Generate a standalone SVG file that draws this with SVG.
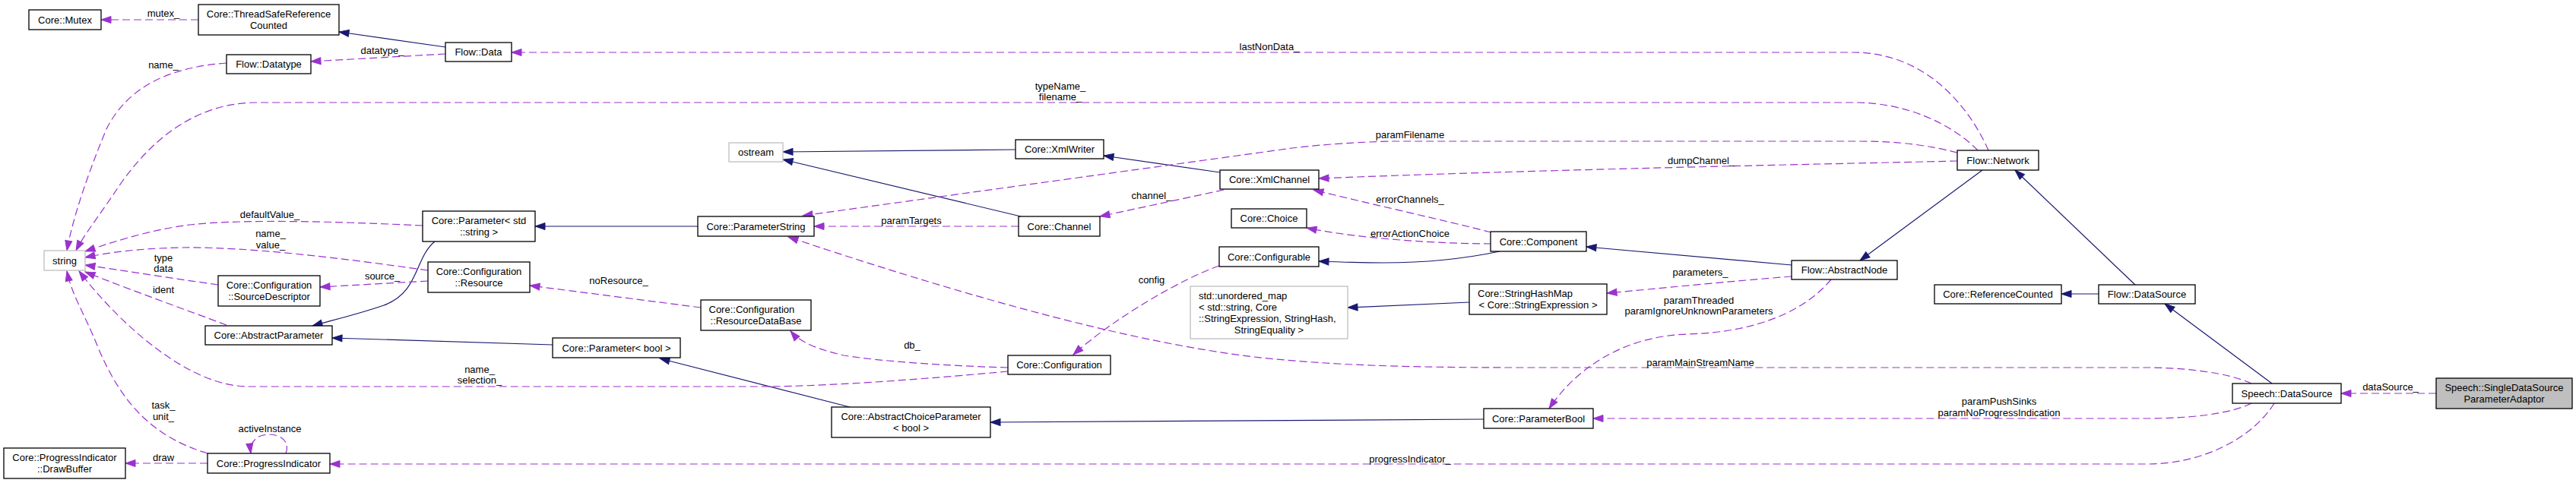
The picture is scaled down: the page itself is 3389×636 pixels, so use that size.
<svg xmlns="http://www.w3.org/2000/svg" width="3389" height="636" viewBox="0 0 3389 636">
<style>
rect{fill:#fff;stroke:#000;stroke-width:1.3}
.g rect{stroke:#bfbfbf}
.m rect{fill:#bfbfbf}
text{font-family:"Liberation Sans",Arial,sans-serif;font-size:13px;fill:#000}
.c{text-anchor:middle}
.inh{fill:none;stroke:#191970;stroke-width:1.2;marker-end:url(#ab)}
.use{fill:none;stroke:#9a32cd;stroke-width:1.2;stroke-dasharray:10,5;marker-end:url(#ap)}
</style>
<defs>
<marker id="ab" markerWidth="14" markerHeight="10" refX="13" refY="4.5" orient="auto" markerUnits="userSpaceOnUse" overflow="visible"><path d="M0,0 L13,4.5 L0,9 Z" fill="#191970" stroke="#191970" stroke-width="1"/></marker>
<marker id="ap" markerWidth="14" markerHeight="10" refX="13" refY="4.5" orient="auto" markerUnits="userSpaceOnUse" overflow="visible"><path d="M0,0 L13,4.5 L0,9 Z" fill="#9a32cd" stroke="#9a32cd" stroke-width="1"/></marker>
</defs>
<rect x="0" y="0" width="3389" height="636" style="fill:#fff;stroke:none"/>

<g id="connectors">
<path class="inh" d="M586,62 L446,42"/>
<path class="inh" d="M1336,197 L1030,200"/>
<path class="inh" d="M1343,285 L1030,210"/>
<path class="inh" d="M1605,227 L1452,205"/>
<path class="inh" d="M918,298 L704,298"/>
<path class="inh" d="M572,318 C545,340 552,385 505,402 C470,414 440,421 411,429"/>
<path class="inh" d="M727,454 L437,445"/>
<path class="inh" d="M1118,536 L868,472"/>
<path class="inh" d="M1952,552 L1303,556"/>
<path class="inh" d="M1973,331 C1930,340 1880,346 1820,346 C1790,346 1760,345 1735,344"/>
<path class="inh" d="M2357,349 L2087,325"/>
<path class="inh" d="M1933,398 L1773,405"/>
<path class="inh" d="M2608,224 L2447,343"/>
<path class="inh" d="M2809,375 L2651,224"/>
<path class="inh" d="M2761,387 L2712,387"/>
<path class="inh" d="M2989,505 L2848,400"/>

<path class="use" d="M261,26 L133,26"/>
<path class="use" d="M586,71 L409,81"/>
<path class="use" d="M298,83 C230,88 170,110 140,170 C115,230 95,290 88,330"/>
<path class="use" d="M2602,198 C2570,165 2510,135 2440,135 L338,135 C270,135 210,170 160,240 C130,285 110,310 100,330"/>
<path class="use" d="M2616,198 C2595,150 2540,69 2438,69 L673,69"/>
<path class="use" d="M556,297 C450,292 320,288 250,296 C200,302 150,318 112,331"/>
<path class="use" d="M563,356 C450,340 330,325 240,326 C180,327 140,333 112,339"/>
<path class="use" d="M287,375 C230,367 160,356 112,349"/>
<path class="use" d="M298,428 C250,410 180,385 112,358"/>
<path class="use" d="M563,370 L421,378"/>
<path class="use" d="M1326,489 C1250,496 1100,509 1000,509 L327,509 C250,509 160,430 104,357"/>
<path class="use" d="M1326,484 C1250,482 1160,476 1110,468 C1075,460 1052,450 1040,436"/>
<path class="use" d="M922,405 L697,376"/>
<path class="use" d="M273,597 C200,575 160,530 130,460 C110,410 95,390 88,357"/>
<path class="use" d="M273,610 L165,610"/>
<path class="use" d="M376,597 C382,582 370,572 354,572 C338,572 328,582 330,597"/>
<path class="use" d="M2992,531 C2965,575 2900,611 2825,611 L434,611"/>
<path class="use" d="M3205,518 L3080,518"/>
<path class="use" d="M2962,505 C2930,490 2870,484 2825,484 L2000,484 C1850,484 1750,481 1650,470 C1500,452 1300,400 1037,312"/>
<path class="use" d="M2962,531 C2935,545 2880,551 2825,551 L2096,551"/>
<path class="use" d="M1340,298 L1071,298"/>
<path class="use" d="M2575,201 C2540,192 2500,186 2450,186 L1830,186 C1790,187 1740,190 1700,195 L1056,284"/>
<path class="use" d="M2575,212 C2400,216 2000,224 1735,235"/>
<path class="use" d="M1962,306 C1900,290 1800,268 1728,250"/>
<path class="use" d="M1962,321 C1900,321 1790,315 1719,300"/>
<path class="use" d="M1610,250 L1447,285"/>
<path class="use" d="M1604,350 C1560,365 1470,415 1412,467"/>
<path class="use" d="M2357,364 C2280,370 2180,380 2114,386"/>
<path class="use" d="M2409,368 C2370,415 2300,438 2220,440 C2130,443 2070,490 2038,538"/>

<g class="c">
<text x="215" y="22">mutex_</text>
<text x="503" y="71">datatype_</text>
<text x="215" y="90">name_</text>
<text x="1670" y="65.5">lastNonData_</text>
<text x="1395" y="117.5">typeName_</text>
<text x="1395" y="131.5">filename_</text>
<text x="1855" y="181.5">paramFilename</text>
<text x="2238" y="215.5">dumpChannel_</text>
<text x="1515" y="261.5">channel_</text>
<text x="1855" y="266.5">errorChannels_</text>
<text x="1199" y="294.5">paramTargets</text>
<text x="1855" y="311.5">errorActionChoice</text>
<text x="355" y="286.5">defaultValue_</text>
<text x="356" y="311.5">name_</text>
<text x="356" y="326.5">value_</text>
<text x="215" y="343.5">type</text>
<text x="215" y="357.5">data</text>
<text x="503" y="367.5">source_</text>
<text x="1515" y="372.5">config</text>
<text x="2237" y="362.5">parameters_</text>
<text x="814" y="373.5">noResource_</text>
<text x="215" y="385.5">ident</text>
<text x="2235" y="399.5">paramThreaded</text>
<text x="2235" y="413.5">paramIgnoreUnknownParameters</text>
<text x="1200" y="458.5">db_</text>
<text x="2237" y="481.5">paramMainStreamName</text>
<text x="631" y="490.5">name_</text>
<text x="631" y="504.5">selection_</text>
<text x="3145" y="513.5">dataSource_</text>
<text x="2630" y="532.5">paramPushSinks</text>
<text x="2630" y="547.5">paramNoProgressIndication</text>
<text x="215" y="537.5">task_</text>
<text x="215" y="552.5">unit_</text>
<text x="355" y="568.5">activeInstance</text>
<text x="215" y="606.5">draw</text>
<text x="1855" y="608.5">progressIndicator_</text>
</g>
</g>

<g id="n_mutex"><rect x="38" y="13" width="95" height="26"/><text class="c" x="85.5" y="30.5">Core::Mutex</text></g>
<g id="n_tsrc"><rect x="261" y="6" width="185" height="40"/><text class="c" x="353.5" y="23">Core::ThreadSafeReference</text><text class="c" x="353.5" y="38">Counted</text></g>
<g id="n_datatype"><rect x="298" y="72" width="111" height="25"/><text class="c" x="353.5" y="89">Flow::Datatype</text></g>
<g id="n_data"><rect x="586" y="56" width="87" height="25"/><text class="c" x="629.5" y="73">Flow::Data</text></g>
<g id="n_string" class="g"><rect x="58" y="330" width="54" height="26"/><text class="c" x="85" y="347.5">string</text></g>
<g id="n_ostream" class="g"><rect x="959" y="188" width="71" height="25"/><text class="c" x="994.5" y="205">ostream</text></g>
<g id="n_xmlwriter"><rect x="1336" y="184" width="116" height="25"/><text class="c" x="1394" y="201">Core::XmlWriter</text></g>
<g id="n_xmlchannel"><rect x="1605" y="224" width="130" height="25"/><text class="c" x="1670" y="241">Core::XmlChannel</text></g>
<g id="n_paramstr"><rect x="556" y="278" width="148" height="40"/><text class="c" x="630" y="295">Core::Parameter&lt; std</text><text class="c" x="630" y="310">::string &gt;</text></g>
<g id="n_parameterstring"><rect x="918" y="285" width="153" height="26"/><text class="c" x="994.5" y="302.5">Core::ParameterString</text></g>
<g id="n_channel"><rect x="1340" y="285" width="107" height="26"/><text class="c" x="1393.5" y="302.5">Core::Channel</text></g>
<g id="n_choice"><rect x="1620" y="275" width="99" height="25"/><text class="c" x="1669.5" y="292">Core::Choice</text></g>
<g id="n_component"><rect x="1961" y="305" width="126" height="26"/><text class="c" x="2024" y="322.5">Core::Component</text></g>
<g id="n_network"><rect x="2575" y="198" width="107" height="26"/><text class="c" x="2628.5" y="215.5">Flow::Network</text></g>
<g id="n_configurable"><rect x="1604" y="325" width="131" height="26"/><text class="c" x="1669.5" y="342.5">Core::Configurable</text></g>
<g id="n_resource"><rect x="563" y="345" width="134" height="40"/><text class="c" x="630" y="362">Core::Configuration</text><text class="c" x="630" y="377">::Resource</text></g>
<g id="n_sourcedesc"><rect x="287" y="363" width="134" height="40"/><text class="c" x="354" y="380">Core::Configuration</text><text class="c" x="354" y="395">::SourceDescriptor</text></g>
<g id="n_umap" class="g"><rect x="1566" y="377" width="207" height="69"/><text x="1577" y="393.5">std::unordered_map</text><text x="1577" y="408.5">&lt; std::string, Core</text><text x="1577" y="423.5">::StringExpression, StringHash,</text><text class="c" x="1669.5" y="438.5">StringEquality &gt;</text></g>
<g id="n_stringhashmap"><rect x="1933" y="374" width="181" height="40"/><text x="1944" y="391">Core::StringHashMap</text><text class="c" x="2023.5" y="406">&lt; Core::StringExpression &gt;</text></g>
<g id="n_abstractnode"><rect x="2357" y="343" width="139" height="25"/><text class="c" x="2426.5" y="360">Flow::AbstractNode</text></g>
<g id="n_refcounted"><rect x="2545" y="375" width="167" height="25"/><text class="c" x="2628.5" y="392">Core::ReferenceCounted</text></g>
<g id="n_flowdatasource"><rect x="2761" y="375" width="127" height="25"/><text class="c" x="2824.5" y="392">Flow::DataSource</text></g>
<g id="n_abstractparam"><rect x="270" y="429" width="167" height="25"/><text class="c" x="353.5" y="446">Core::AbstractParameter</text></g>
<g id="n_resourcedb"><rect x="922" y="395" width="145" height="40"/><text x="932.5" y="412">Core::Configuration</text><text class="c" x="994.5" y="427">::ResourceDataBase</text></g>
<g id="n_parambool_t"><rect x="727" y="445" width="168" height="26"/><text class="c" x="811" y="462.5">Core::Parameter&lt; bool &gt;</text></g>
<g id="n_configuration"><rect x="1326" y="468" width="135" height="25"/><text class="c" x="1393.5" y="485">Core::Configuration</text></g>
<g id="n_speechdatasource"><rect x="2937" y="505" width="143" height="26"/><text class="c" x="3008.5" y="522.5">Speech::DataSource</text></g>
<g id="n_single" class="m"><rect x="3205" y="498" width="179" height="40"/><text class="c" x="3294.5" y="515">Speech::SingleDataSource</text><text class="c" x="3294.5" y="530">ParameterAdaptor</text></g>
<g id="n_abstractchoice"><rect x="1094" y="536" width="209" height="40"/><text class="c" x="1198.5" y="553">Core::AbstractChoiceParameter</text><text class="c" x="1198.5" y="568">&lt; bool &gt;</text></g>
<g id="n_parameterbool"><rect x="1952" y="538" width="144" height="26"/><text class="c" x="2024" y="555.5">Core::ParameterBool</text></g>
<g id="n_drawbuffer"><rect x="5" y="590" width="160" height="40"/><text class="c" x="85" y="607">Core::ProgressIndicator</text><text class="c" x="85" y="622">::DrawBuffer</text></g>
<g id="n_progress"><rect x="273" y="597" width="161" height="26"/><text class="c" x="353.5" y="614.5">Core::ProgressIndicator</text></g>
</svg>
